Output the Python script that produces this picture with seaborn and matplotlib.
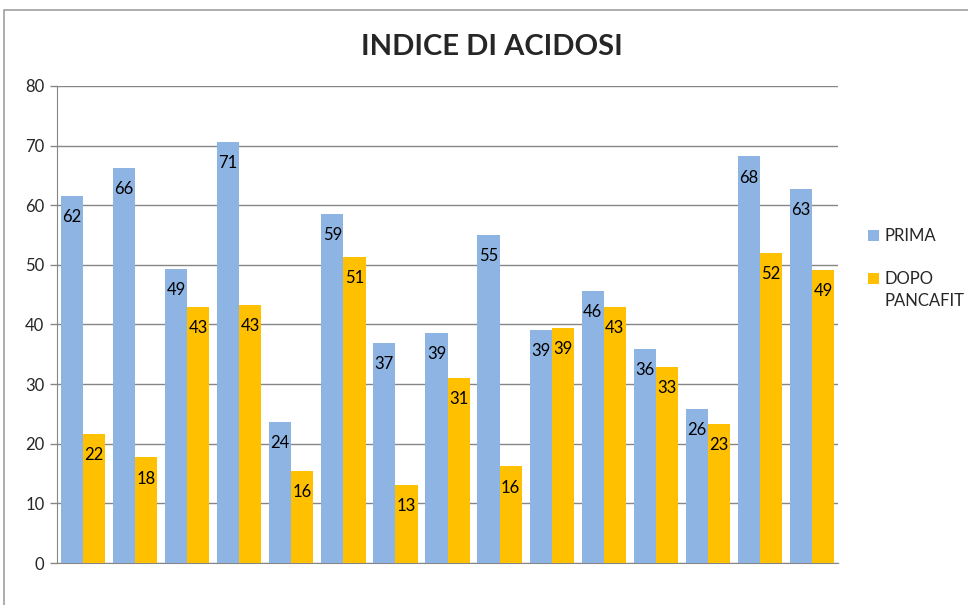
import numpy as np
import pandas as pd
import matplotlib
matplotlib.use("Agg")
import matplotlib.pyplot as plt
import matplotlib.patches as mpatches
import seaborn as sns

# dati
gruppi = [str(i) for i in range(1, 16)]
prima = [61.6, 66.2, 49.3, 70.6, 23.6, 58.6, 36.9, 38.6, 55.0, 39.1, 45.7, 35.9, 25.8, 68.2, 62.8]
dopo = [21.7, 17.7, 43.0, 43.3, 15.5, 51.3, 13.1, 31.0, 16.2, 39.4, 43.0, 32.9, 23.3, 52.0, 49.1]
serie = ["PRIMA", "DOPO\nPANCAFIT"]
colori = ["#8EB4E3", "#FFC000"]

df = pd.DataFrame({
    "gruppo": gruppi * 2,
    "valore": prima + dopo,
    "serie": [serie[0]] * len(gruppi) + [serie[1]] * len(gruppi),
})

sns.set_style("white")
plt.rcParams["font.family"] = ["Lato", "DejaVu Sans"]

fig = plt.figure(figsize=(9.68, 6.05), dpi=100)
ax = fig.add_axes([0.0589, 0.0694, 0.8068, 0.7885])

sns.barplot(data=df, x="gruppo", y="valore", hue="serie", palette=colori,
            width=0.85, saturation=1, ax=ax, legend=False, zorder=3,
            linewidth=0)

# etichette dentro le barre
for cont in ax.containers:
    labels = [f"{round(b.get_height()):d}" for b in cont]
    ax.bar_label(cont, labels=labels, label_type="edge", padding=-21,
                 fontsize=12, color="black")

ax.set_ylim(0, 80)
ax.set_yticks(np.arange(0, 81, 10))
ax.set_xlim(-0.5, len(gruppi) - 0.5)
ax.set_xticks([])
ax.set_xlabel("")
ax.set_ylabel("")
ax.tick_params(axis="y", labelsize=12, length=5, width=1, color="#868686",
               direction="out", left=True, pad=4)
ax.yaxis.grid(True, color="#868686", linewidth=1, zorder=0)
ax.set_axisbelow(True)
for s in ["top", "right"]:
    ax.spines[s].set_visible(False)
ax.spines["left"].set_color("#868686")
ax.spines["bottom"].set_color("#868686")

# legenda (quadratino allineato alla prima riga del testo)
W, H = 968, 605
for (ytop, col, lab) in [(230, colori[0], "PRIMA"), (273, colori[1], "DOPO\nPANCAFIT")]:
    fig.add_artist(mpatches.Rectangle((868 / W, 1 - (ytop + 11) / H), 11 / W, 11 / H,
                                      transform=fig.transFigure, facecolor=col,
                                      edgecolor="none"))
    fig.text(884 / W, 1 - (ytop - 2) / H, lab, ha="left", va="top",
             fontsize=12, linespacing=1.45)

fig.text(0.508, 0.922, "INDICE DI ACIDOSI", ha="center", va="center",
         fontsize=21, fontweight="bold")

# cornice del grafico
fig.patches.append(mpatches.Rectangle((0.004, -0.01), 1.2, 0.994,
                                      transform=fig.transFigure, fill=False,
                                      edgecolor="#A0A0A0", linewidth=1.2))

plt.savefig("out.png", dpi=100)
